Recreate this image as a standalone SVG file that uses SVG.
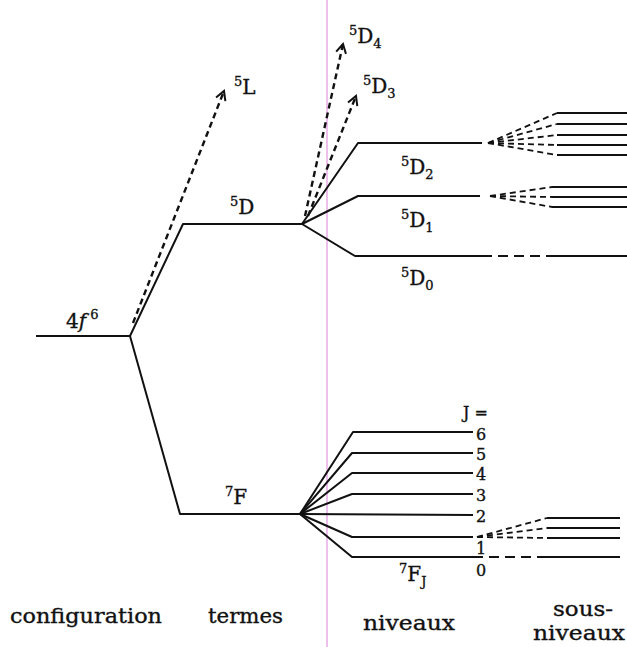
<svg xmlns="http://www.w3.org/2000/svg" width="627" height="647" viewBox="0 0 627 647">
<defs>
<style>
.l{stroke:#111;stroke-width:2;fill:none;stroke-linejoin:round}
.d{stroke:#111;stroke-width:2.4;fill:none;stroke-dasharray:6 4}
.t{font-family:"DejaVu Serif","Liberation Serif",serif;font-size:20px;fill:#111;stroke:#111;stroke-width:0.35}
.s{font-size:13px}
</style>
<marker id="ah" viewBox="0 0 12 12" refX="10" refY="6" markerWidth="12" markerHeight="12" markerUnits="userSpaceOnUse" orient="auto">
<polyline points="1,1 10,6 1,11" fill="none" stroke="#111" stroke-width="2"/>
</marker>
</defs>
<rect width="627" height="647" fill="#fff"/>
<line x1="327" y1="0" x2="327" y2="647" stroke="#e8a8e8" stroke-width="1.5"/>
<g id="connectors">
<polyline class="l" points="36,336 130,336"/>
<polyline class="l" points="130,336 183,224 302,224"/>
<polyline class="l" points="130,336 180,514 302,514"/>
<line class="d" x1="133" y1="323" x2="224" y2="91" marker-end="url(#ah)"/>
<line class="d" x1="305" y1="216" x2="343" y2="44" marker-end="url(#ah)"/>
<line class="d" x1="308" y1="216" x2="356" y2="96" marker-end="url(#ah)"/>
<polyline class="l" points="302,224 358,143 482,143"/>
<polyline class="l" points="302,224 358,196 480,196"/>
<polyline class="l" points="302,224 355,256 482,256"/>
<line class="d" x1="482" y1="256" x2="552" y2="256" style="stroke-dasharray:10 6;stroke-width:2"/>
<line class="l" x1="552" y1="256" x2="627" y2="256"/>
<g class="d" style="stroke-width:1.8">
<line x1="488" y1="143" x2="557" y2="113"/>
<line x1="488" y1="143" x2="557" y2="124"/>
<line x1="488" y1="143" x2="557" y2="135"/>
<line x1="488" y1="143" x2="557" y2="145"/>
<line x1="488" y1="143" x2="557" y2="155"/>
<line x1="490" y1="196" x2="552" y2="187"/>
<line x1="490" y1="196" x2="552" y2="197"/>
<line x1="490" y1="196" x2="552" y2="207"/>
<line x1="477" y1="537" x2="547" y2="518"/>
<line x1="477" y1="537" x2="547" y2="528"/>
<line x1="477" y1="537" x2="547" y2="538"/>
</g>
<g class="l">
<line x1="557" y1="113" x2="627" y2="113"/>
<line x1="557" y1="124" x2="627" y2="124"/>
<line x1="557" y1="135" x2="627" y2="135"/>
<line x1="557" y1="145" x2="627" y2="145"/>
<line x1="557" y1="155" x2="627" y2="155"/>
<line x1="552" y1="187" x2="627" y2="187"/>
<line x1="552" y1="197" x2="627" y2="197"/>
<line x1="552" y1="207" x2="627" y2="207"/>
<line x1="547" y1="518" x2="620" y2="518"/>
<line x1="547" y1="528" x2="620" y2="528"/>
<line x1="547" y1="538" x2="620" y2="538"/>
<polyline points="300,514 353,432 473,432"/>
<polyline points="300,514 352,453 473,453"/>
<polyline points="300,514 352,473 473,473"/>
<polyline points="300,514 352,494 473,494"/>
<polyline points="300,514 473,515"/>
<polyline points="300,514 352,537 473,537"/>
<polyline points="300,514 352,557 473,557"/>
<line x1="547" y1="557" x2="620" y2="557"/>
</g>
<line class="d" x1="473" y1="557" x2="547" y2="557" style="stroke-dasharray:10 6;stroke-width:2"/>
</g>
<g id="config" class="t"><text x="66" y="328">4<tspan font-style="italic">f</tspan><tspan class="s" dy="-9"> 6</tspan></text></g>
<g id="L5" class="t"><text x="234" y="94"><tspan class="s" dy="-8">5</tspan><tspan dy="8">L</tspan></text></g>
<g id="D5" class="t"><text x="230" y="214"><tspan class="s" dy="-8">5</tspan><tspan dy="8">D</tspan></text></g>
<g id="F7" class="t"><text x="225" y="504"><tspan class="s" dy="-8">7</tspan><tspan dy="8">F</tspan></text></g>
<g id="D54" class="t"><text x="349" y="43"><tspan class="s" dy="-8">5</tspan><tspan dy="8">D</tspan><tspan class="s" dy="5">4</tspan></text></g>
<g id="D53" class="t"><text x="363" y="93"><tspan class="s" dy="-8">5</tspan><tspan dy="8">D</tspan><tspan class="s" dy="5">3</tspan></text></g>
<g id="D52" class="t"><text x="401" y="174"><tspan class="s" dy="-8">5</tspan><tspan dy="8">D</tspan><tspan class="s" dy="5">2</tspan></text></g>
<g id="D51" class="t"><text x="401" y="227"><tspan class="s" dy="-8">5</tspan><tspan dy="8">D</tspan><tspan class="s" dy="5">1</tspan></text></g>
<g id="D50" class="t"><text x="401" y="285"><tspan class="s" dy="-8">5</tspan><tspan dy="8">D</tspan><tspan class="s" dy="5">0</tspan></text></g>
<g id="F7J" class="t"><text x="399" y="581"><tspan class="s" dy="-8">7</tspan><tspan dy="8">F</tspan><tspan class="s" dy="5">J</tspan></text></g>
<g id="J" class="t" style="font-size:16px">
<text x="463" y="418">J =</text>
<text x="476" y="440">6</text>
<text x="476" y="460">5</text>
<text x="476" y="480">4</text>
<text x="476" y="501">3</text>
<text x="476" y="522">2</text>
<text x="476" y="554">1</text>
<text x="476" y="576">0</text>
</g>
<g id="labels" class="t">
<text x="10" y="623" textLength="152" lengthAdjust="spacingAndGlyphs">configuration</text>
<text x="208" y="623" textLength="75" lengthAdjust="spacingAndGlyphs">termes</text>
<text x="363" y="630" textLength="92" lengthAdjust="spacingAndGlyphs">niveaux</text>
<text x="553" y="616" textLength="60" lengthAdjust="spacingAndGlyphs">sous-</text>
<text x="533" y="640" textLength="92" lengthAdjust="spacingAndGlyphs">niveaux</text>
</g>
</svg>
